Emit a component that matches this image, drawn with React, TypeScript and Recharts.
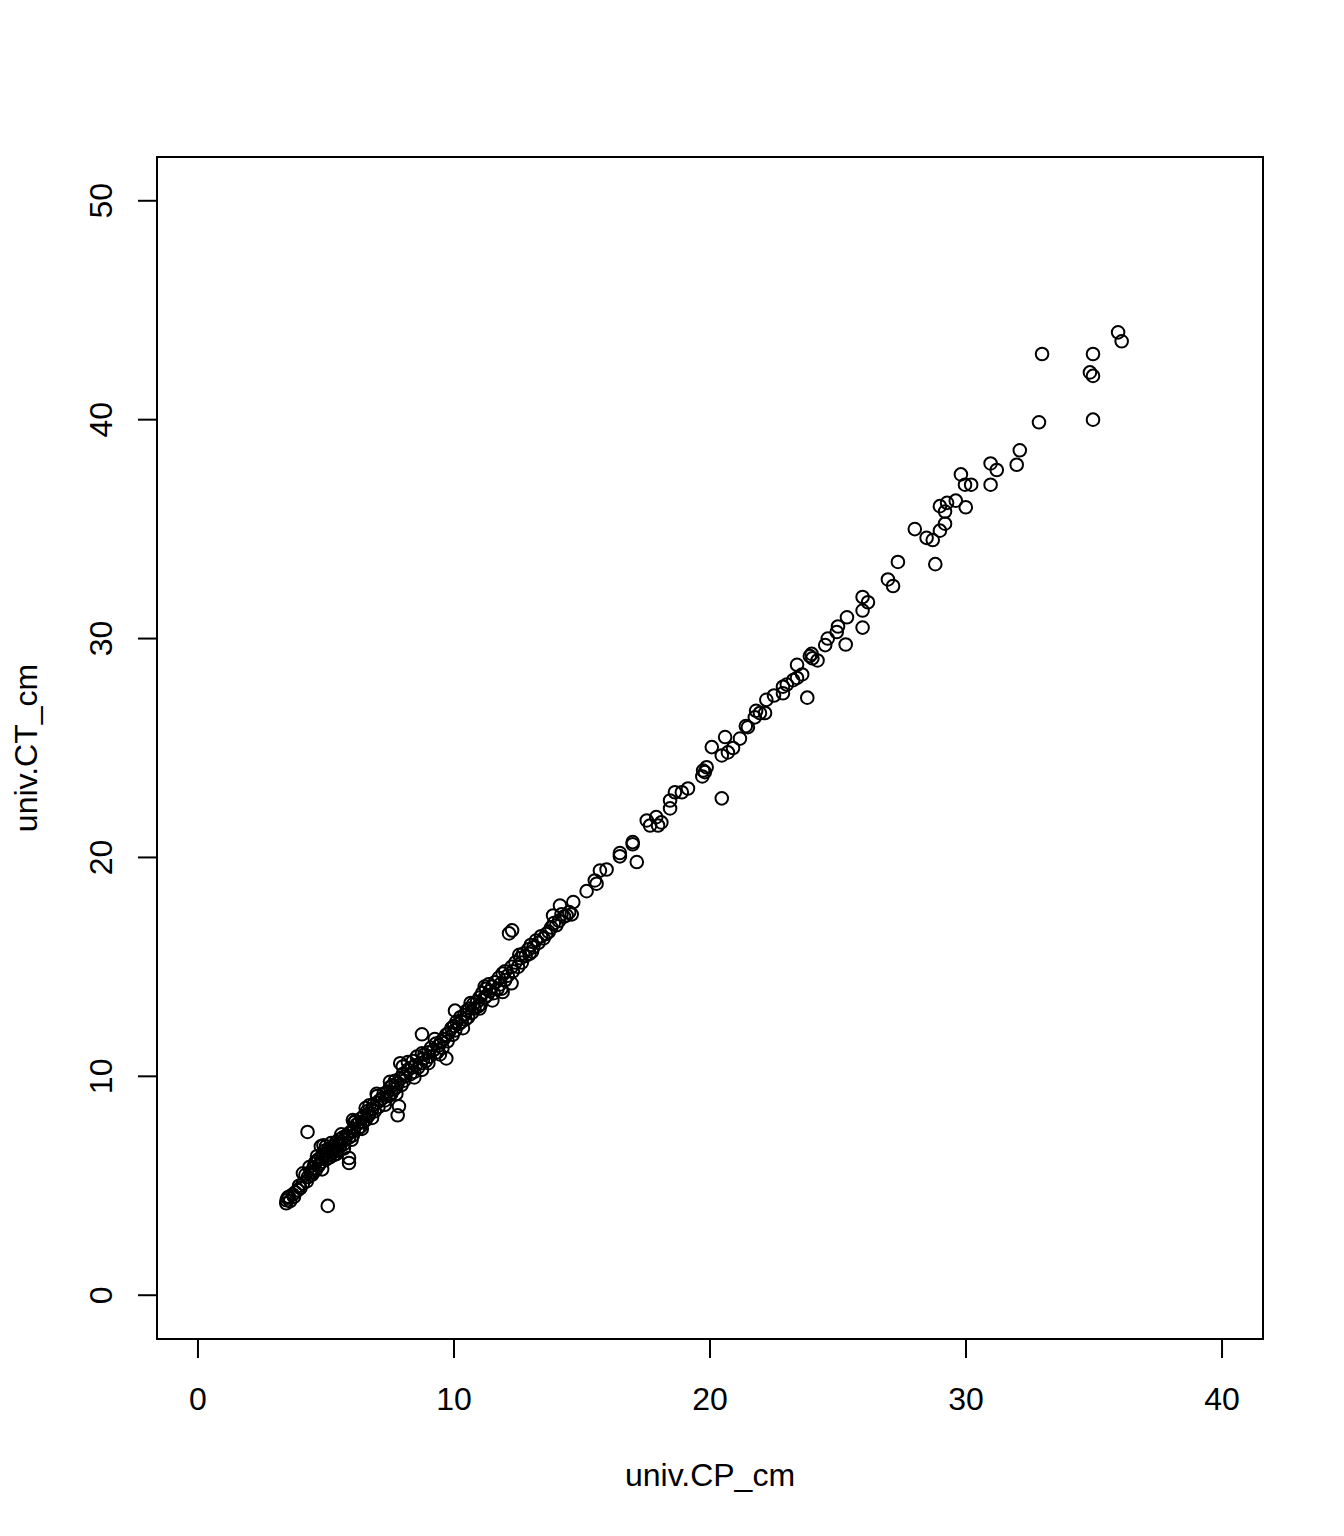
import React from "react";
import { ScatterChart, Scatter, XAxis, YAxis, ReferenceArea } from "recharts";

const xTicks = [0, 10, 20, 30, 40];
const yTicks = [0, 10, 20, 30, 40, 50];
const xTitle = "univ.CP_cm";
const yTitle = "univ.CT_cm";

// [univ.CP_cm, univ.CT_cm]
const pairsLow: number[][] = [
  [3.45, 4.2], [3.46, 4.34], [3.5, 4.45], [3.55, 4.5], [3.6, 4.3], [3.7, 4.6], [3.75, 4.5], [3.8, 4.7],
  [3.9, 4.8], [3.95, 5.0], [4.0, 4.9], [4.1, 5.1], [4.1, 5.57], [4.2, 5.5], [4.25, 5.2], [4.28, 7.46],
  [4.3, 5.4], [4.4, 5.6], [4.45, 5.5], [4.5, 5.8], [4.5, 5.6], [4.55, 6.0], [4.6, 5.7], [4.6, 6.1],
  [4.7, 5.9], [4.7, 6.2], [4.75, 6.0], [4.8, 6.3], [4.8, 6.8], [4.85, 6.1], [4.9, 6.4], [4.9, 6.85],
  [4.95, 6.6], [5.0, 6.2], [5.0, 6.5], [5.0, 6.8], [5.07, 4.08], [5.1, 6.4], [5.1, 6.7], [5.15, 6.3],
  [5.2, 6.6], [5.25, 6.5], [5.3, 6.8], [5.3, 6.4], [5.35, 6.7], [5.4, 7.0], [5.45, 6.6], [5.5, 6.9],
  [5.5, 7.1], [5.55, 6.8], [5.6, 7.0], [5.65, 7.2], [5.7, 6.9], [5.75, 7.1], [5.8, 7.3], [5.9, 6.27],
  [5.9, 6.04], [5.9, 7.2], [5.9, 7.4], [6.0, 7.5], [6.05, 8.0], [6.05, 7.3], [6.1, 7.6], [6.1, 7.9],
  [6.2, 7.8], [6.25, 7.6], [6.3, 7.9], [6.35, 7.7], [6.4, 8.1], [6.45, 7.9], [6.5, 8.2], [6.55, 8.0],
  [6.6, 8.4], [6.65, 8.2], [6.7, 8.68], [6.7, 8.3], [6.8, 8.5], [6.85, 8.7], [6.9, 8.4], [6.98, 9.2],
  [7.0, 8.8], [7.05, 8.6], [7.1, 8.9], [7.2, 9.0], [7.25, 9.2], [7.3, 8.9], [7.4, 9.3], [7.45, 9.1],
  [7.5, 9.5], [7.55, 9.2], [7.6, 9.6], [7.65, 9.4], [7.7, 9.8], [7.75, 9.5], [7.8, 8.22], [7.85, 8.63],
  [7.8, 9.7], [7.9, 9.9], [7.9, 10.6], [7.95, 9.6], [8.0, 10.1], [8.0, 10.45], [8.05, 9.8], [8.1, 10.0],
  [8.2, 10.3], [8.3, 10.1], [8.35, 10.4], [8.4, 10.7], [8.45, 10.2], [8.5, 10.5], [8.55, 10.9], [8.6, 10.4],
  [8.7, 10.6], [8.75, 10.3], [8.75, 11.92], [8.8, 10.8], [8.85, 11.0], [8.9, 10.7], [9.0, 11.1], [9.05, 10.9],
  [9.1, 11.3], [9.2, 11.2], [9.3, 11.5], [9.35, 11.1], [9.4, 11.4], [9.45, 11.0], [9.5, 11.6], [9.55, 11.3],
  [9.6, 11.7], [9.7, 10.82], [9.7, 11.9], [9.75, 11.6], [9.8, 12.0], [9.9, 12.2], [9.95, 11.9],
  [4.35, 5.85], [4.65, 6.35], [4.85, 5.75], [5.2, 6.95], [5.4, 6.45], [5.6, 7.35], [5.7, 6.7],
  [6.0, 7.1], [6.15, 7.95], [6.4, 7.6], [6.55, 8.55], [6.8, 8.1], [7.0, 9.1], [7.3, 8.7],
  [7.5, 9.75], [7.75, 9.2], [8.2, 10.65], [8.45, 9.95], [8.75, 11.05], [9.0, 10.6], [9.25, 11.7],
];

const pairsMid: number[][] = [
  [10.0, 12.3], [10.04, 13.0], [10.05, 12.1], [10.1, 12.5], [10.2, 12.4], [10.25, 12.7], [10.3, 12.5],
  [10.4, 12.8], [10.45, 12.6], [10.5, 13.0], [10.55, 12.7], [10.6, 13.1], [10.7, 12.9], [10.75, 13.3],
  [10.8, 13.1], [10.9, 13.4], [10.95, 13.2], [11.0, 13.6], [11.05, 13.3], [11.1, 13.8], [11.2, 14.1],
  [11.2, 13.6], [11.25, 14.0], [11.3, 13.7], [11.4, 13.9], [11.5, 13.47], [11.5, 14.1], [11.55, 13.8],
  [11.6, 14.3], [11.7, 14.0], [11.75, 14.5], [11.8, 14.2], [11.9, 14.7], [11.9, 13.85], [12.0, 14.4],
  [12.0, 14.8], [12.1, 14.6], [12.15, 16.53], [12.25, 14.25], [12.25, 15.0], [12.27, 16.67], [12.3, 14.8],
  [12.4, 15.2], [12.5, 15.0], [12.6, 15.4], [12.65, 15.2], [12.7, 15.6], [12.8, 15.5], [12.9, 15.8],
  [12.95, 15.6], [13.0, 16.0], [13.1, 15.9], [13.2, 16.2], [13.3, 16.1], [13.4, 16.4], [13.5, 16.3],
  [13.6, 16.5], [13.7, 16.6], [13.8, 16.8], [13.87, 17.35], [13.9, 17.0], [14.0, 16.9], [14.1, 17.1],
  [14.14, 17.8], [14.2, 17.4], [14.3, 17.3], [14.4, 17.35], [14.5, 17.5], [14.6, 17.4], [14.66, 17.96],
  [15.18, 18.46], [15.5, 18.95], [15.57, 18.8], [15.7, 19.4], [15.96, 19.45], [16.48, 20.2], [16.48, 20.05],
  [16.98, 20.7], [16.98, 20.6], [17.14, 19.79], [17.53, 21.69], [17.66, 21.46], [17.9, 21.84], [17.97, 21.46],
  [18.1, 21.6], [18.44, 22.6], [18.44, 22.24], [18.63, 22.98], [18.9, 22.98], [19.14, 23.15],
  [19.7, 23.7], [19.73, 23.97], [19.87, 24.12], [19.8, 23.9],
  [10.35, 12.2], [10.65, 13.35], [11.0, 13.1], [11.35, 14.2], [11.85, 14.0], [12.55, 15.55], [13.05, 15.7],
];

const pairsHigh: number[][] = [
  [20.07, 25.04], [20.46, 24.66], [20.46, 22.7], [20.59, 25.5], [20.7, 24.8], [20.9, 25.0], [21.17, 25.43],
  [21.48, 25.95], [21.4, 26.0], [21.75, 26.4], [21.8, 26.7], [21.95, 26.6], [22.15, 26.6], [22.2, 27.2],
  [22.5, 27.4], [22.85, 27.5], [22.85, 27.8], [23.0, 27.9], [23.25, 28.1], [23.4, 28.2], [23.6, 28.36],
  [23.4, 28.8], [23.8, 27.3], [23.9, 29.2], [23.97, 29.3], [24.0, 29.1], [24.2, 29.0], [24.5, 29.7],
  [24.6, 30.0], [24.95, 30.3], [25.0, 30.55], [25.3, 29.73], [25.35, 30.97], [25.96, 30.5], [25.96, 31.28],
  [25.96, 31.9], [26.17, 31.66], [26.95, 32.7], [27.15, 32.4], [27.34, 33.5], [28.0, 35.0], [28.46, 34.6],
  [28.7, 34.5], [28.8, 33.4], [28.98, 34.93], [28.98, 36.05], [29.18, 35.25], [29.18, 35.8], [29.26, 36.2],
  [29.6, 36.3], [29.8, 37.5], [29.99, 36.0], [29.96, 37.03], [30.2, 37.03], [30.96, 38.0], [30.96, 37.03],
  [31.2, 37.7], [31.98, 37.94], [32.1, 38.6], [32.85, 39.88], [32.97, 43.0], [34.84, 42.16], [34.96, 42.0],
  [34.96, 43.0], [34.96, 40.0], [35.94, 43.99], [36.08, 43.58],
];

const points = [...pairsLow, ...pairsMid, ...pairsHigh].map(([x, y]) => ({ x, y }));

const FONT = "'Liberation Sans', Arial, sans-serif";

const Ring = (props: any) => (
  <circle cx={props.cx} cy={props.cy} r={6.3} fill="none" stroke="#000" strokeWidth={2} />
);

const XTick = (props: any) => (
  <text x={props.x} y={1402} textAnchor="middle" fontSize={32} fontFamily={FONT} fill="#000">
    {props.payload.value}
  </text>
);

const YTick = (props: any) => (
  <text
    x={104}
    y={props.y}
    transform={`rotate(-90, 104, ${props.y})`}
    textAnchor="middle"
    fontSize={32}
    fontFamily={FONT}
    fill="#000"
  >
    {props.payload.value}
  </text>
);

export default function App() {
  return (
    <ScatterChart width={1328} height={1520} margin={{ top: 149, right: 73, bottom: 0, left: 0 }}>
      <XAxis
        type="number"
        dataKey="x"
        domain={[-1.6, 41.6]}
        ticks={xTicks}
        interval={0}
        axisLine={false}
        tickSize={19}
        tickLine={{ stroke: "#000", strokeWidth: 2 }}
        tick={<XTick />}
        height={189}
        allowDataOverflow
        label={{
          content: () => (
            <text x={702} y={1478} textAnchor="middle" fontSize={32} fontFamily={FONT} fill="#000">
              {xTitle}
            </text>
          ),
        }}
      />
      <YAxis
        type="number"
        dataKey="y"
        domain={[-2, 52]}
        ticks={yTicks}
        interval={0}
        axisLine={false}
        tickSize={19}
        tickLine={{ stroke: "#000", strokeWidth: 2 }}
        tick={<YTick />}
        width={149}
        allowDataOverflow
        label={{
          content: () => (
            <text
              x={29}
              y={740}
              transform="rotate(-90, 29, 740)"
              textAnchor="middle"
              fontSize={32}
              fontFamily={FONT}
              fill="#000"
            >
              {yTitle}
            </text>
          ),
        }}
      />
      <ReferenceArea
        x1={-1.6}
        x2={41.6}
        y1={-2}
        y2={52}
        fill="none"
        fillOpacity={0}
        stroke="#000"
        strokeWidth={2}
        ifOverflow="visible"
      />
      <Scatter data={points} shape={<Ring />} isAnimationActive={false} />
    </ScatterChart>
  );
}
